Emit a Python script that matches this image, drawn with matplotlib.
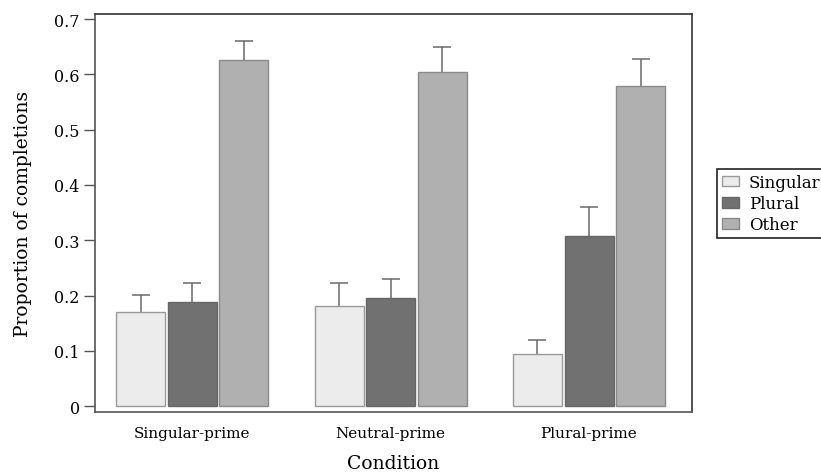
import matplotlib
matplotlib.use("Agg")
import matplotlib.pyplot as plt
import numpy as np

plt.rcParams['font.family'] = ['DejaVu Serif']

conditions = ["Singular-prime", "Neutral-prime", "Plural-prime"]
series = ["Singular", "Plural", "Other"]
singular = [0.171, 0.181, 0.095]
plural = [0.188, 0.195, 0.307]
other = [0.626, 0.604, 0.579]
singular_err = [0.030, 0.042, 0.024]
plural_err = [0.035, 0.035, 0.053]
other_err = [0.034, 0.045, 0.049]
yticks = [0, 0.1, 0.2, 0.3, 0.4, 0.5, 0.6, 0.7]
ytick_labels = ["0", "0.1", "0.2", "0.3", "0.4", "0.5", "0.6", "0.7"]

colors = ["#ececec", "#717171", "#b0b0b0"]
edges = ["#9a9a9a", "#666666", "#8a8a8a"]

fig = plt.figure(figsize=(8.21, 4.77), dpi=100)
ax = fig.add_axes([95/821, 1-413.3/477, (692-95)/821, (413.3-15.3)/477])

x = np.arange(len(conditions))
width = 0.247
step = 0.26
vals = [singular, plural, other]
errs = [singular_err, plural_err, other_err]
for i, (v, e) in enumerate(zip(vals, errs)):
    pos = x + (i - 1) * step
    ax.bar(pos, v, width=width, color=colors[i], edgecolor=edges[i], linewidth=1.0,
           label=series[i], zorder=2)
    _, caps, _ = ax.errorbar(pos, v, yerr=[np.zeros(len(e)), e], fmt='none',
                             ecolor="#6a6a6a", elinewidth=1.1, capsize=6.5,
                             capthick=1.1, zorder=1)
    caps[0].set_visible(False)

ax.set_xlim(-0.49, 2.519)
ax.set_ylim(-0.0108, 0.7085)
ax.set_yticks(yticks)
ax.set_yticklabels(ytick_labels, fontsize=11.5)
ax.set_xticks(x)
ax.set_xticklabels(conditions, fontsize=11)
ax.tick_params(axis='x', length=0, pad=10)
ax.tick_params(axis='y', length=8, width=1, color="#555555", pad=3)
for s in ax.spines.values():
    s.set_linewidth(1.2)
    s.set_color("#333333")
ax.spines['left'].set_color("#555555")
ax.spines['bottom'].set_color("#555555")

ax.set_ylabel("Proportion of completions", fontsize=13.5, labelpad=16)
ax.set_xlabel("Condition", fontsize=13.5, labelpad=10)

leg = fig.legend(loc='upper left', bbox_to_anchor=(717/821, 1-170/477), fontsize=12,
                 frameon=True, fancybox=False, edgecolor="#222222", framealpha=1,
                 handlelength=1.0, handleheight=0.6, handletextpad=0.6,
                 borderpad=0.3, labelspacing=0.25, borderaxespad=0)
leg.get_frame().set_linewidth(1.2)

fig.savefig("out.png", dpi=100)
